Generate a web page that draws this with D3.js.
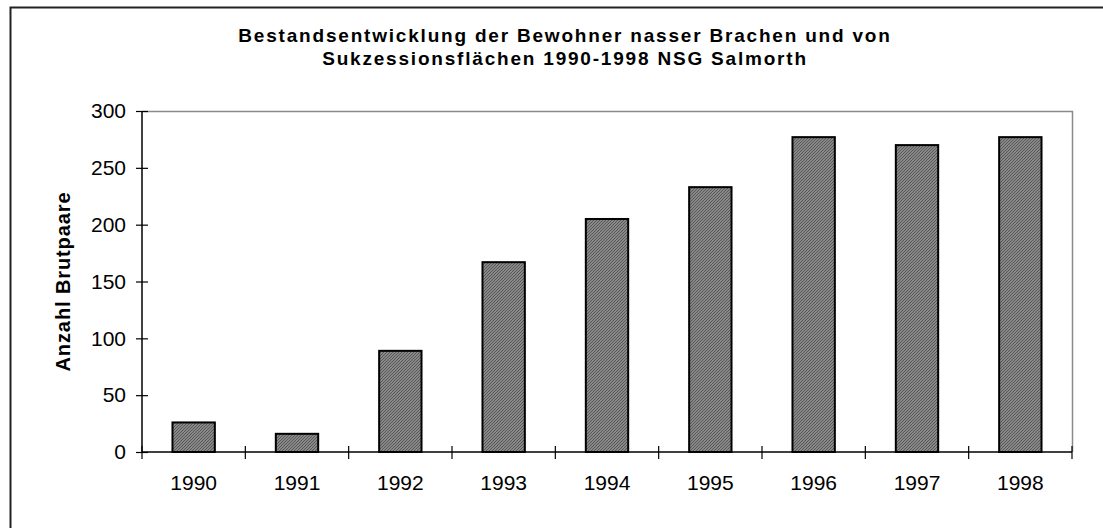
<!DOCTYPE html>
<html>
<head>
<meta charset="utf-8">
<script src="https://cdn.jsdelivr.net/npm/d3@7"></script>
<style>
  body { margin: 0; background: #fff; }
  svg { display: block; font-family: "Liberation Sans", Arial, sans-serif; }
</style>
</head>
<body>
<svg class="visSVG"></svg>
<script>
const svgWidth = 1103;
const svgHeight = 528;

// data
const years = ["1990", "1991", "1992", "1993", "1994", "1995", "1996", "1997", "1998"];
const pairs = [26, 16, 89, 167, 205, 233, 277, 270, 277];
const yTicks = [0, 50, 100, 150, 200, 250, 300];
const titleLines = [
    "Bestandsentwicklung der Bewohner nasser Brachen und von",
    "Sukzessionsflächen 1990-1998 NSG Salmorth"
];
const yAxisLabel = "Anzahl Brutpaare";

var fontFam = '"Liberation Sans", Arial, sans-serif';
var margin = { top: 111, right: 31, bottom: 76, left: 142 };
var innerWidth = svgWidth - margin.left - margin.right;
var innerHeight = svgHeight - margin.top - margin.bottom;

const svg = d3.select('.visSVG')
    .attr("width", svgWidth)
    .attr("height", svgHeight);

// hatch fill like the old excel bars
var defs = svg.append("defs");
var pat = defs.append("pattern")
    .attr("id", "hatch")
    .attr("patternUnits", "userSpaceOnUse")
    .attr("width", 3)
    .attr("height", 3);
pat.append("rect").attr("width", 3).attr("height", 3).attr("fill", "#9c9c9c");
pat.append("path").attr("d", "M0,3 L3,0 M-1,1 L1,-1 M2,4 L4,2")
    .attr("stroke", "#555").attr("stroke-width", 1.1);

// outer frame
svg.append("rect")
    .attr("x", 10.5).attr("y", 7.5)
    .attr("width", 1100).attr("height", 530)
    .attr("fill", "none")
    .attr("stroke", "#222")
    .attr("stroke-width", 2);

// title
var title = svg.append("text")
    .attr("text-anchor", "middle")
    .attr("font-size", "19px")
    .attr("font-weight", "bold")
    .attr("letter-spacing", "1.8px");
titleLines.forEach(function (line, i) {
    title.append("tspan")
        .attr("x", 565)
        .attr("y", 42 + i * 23)
        .text(line);
});

const graph = svg.append("g")
    .attr("transform", "translate(" + margin.left + "," + margin.top + ")");

const xScale = d3.scaleBand()
    .domain(years)
    .range([0, innerWidth])
    .paddingInner(0.59)
    .paddingOuter(0.295);

const yScale = d3.scaleLinear()
    .domain([0, 300])
    .range([innerHeight, 0]);

// grey frame top + right
graph.append("path")
    .attr("d", "M0,0.5 H" + (innerWidth + 0.5) + " V" + innerHeight)
    .attr("fill", "none")
    .attr("stroke", "#8a8a8a")
    .attr("stroke-width", 1.5);

// bars
graph.append("g")
    .selectAll("rect")
    .data(years)
    .enter().append("rect")
        .attr("x", function (d) { return xScale(d); })
        .attr("y", function (d, i) { return yScale(pairs[i]); })
        .attr("width", xScale.bandwidth())
        .attr("height", function (d, i) { return innerHeight - yScale(pairs[i]); })
        .attr("fill", "url(#hatch)")
        .attr("stroke", "#000")
        .attr("stroke-width", 2);

// Y AXIS
var yAxis = graph.append("g")
    .call(d3.axisLeft(yScale).tickValues(yTicks).tickSize(6).tickPadding(10))
    .attr("font-family", fontFam)
    .attr("font-size", "21px");
yAxis.selectAll(".tick line").attr("x2", 6).attr("x1", -6).attr("stroke-width", 1.2);
yAxis.selectAll(".tick text").attr("fill", "#000");
yAxis.select(".domain").attr("stroke-width", 1.5).attr("d", "M0,0V" + innerHeight);

graph.append("text")
    .attr("transform", "rotate(-90)")
    .attr("x", -innerHeight / 2)
    .attr("y", -72)
    .attr("text-anchor", "middle")
    .attr("font-size", "20px")
    .attr("font-weight", "bold")
    .attr("letter-spacing", "0.9px")
    .text(yAxisLabel);

// X AXIS
var xBoundaries = d3.range(years.length + 1).map(function (i) { return i * innerWidth / years.length; });
var xAxis = graph.append("g")
    .attr("transform", "translate(0," + innerHeight + ")")
    .call(d3.axisBottom(xScale).tickSize(0).tickPadding(23))
    .attr("font-family", fontFam)
    .attr("font-size", "21px");
xAxis.selectAll(".tick text").attr("fill", "#000");
xAxis.select(".domain").attr("stroke-width", 1.5).attr("d", "M0,0H" + innerWidth);
xAxis.selectAll(".sep")
    .data(xBoundaries)
    .enter().append("line")
        .attr("class", "sep")
        .attr("x1", function (d) { return d; })
        .attr("x2", function (d) { return d; })
        .attr("y1", -6)
        .attr("y2", 7)
        .attr("stroke", "#000")
        .attr("stroke-width", 1.2);
</script>
</body>
</html>
